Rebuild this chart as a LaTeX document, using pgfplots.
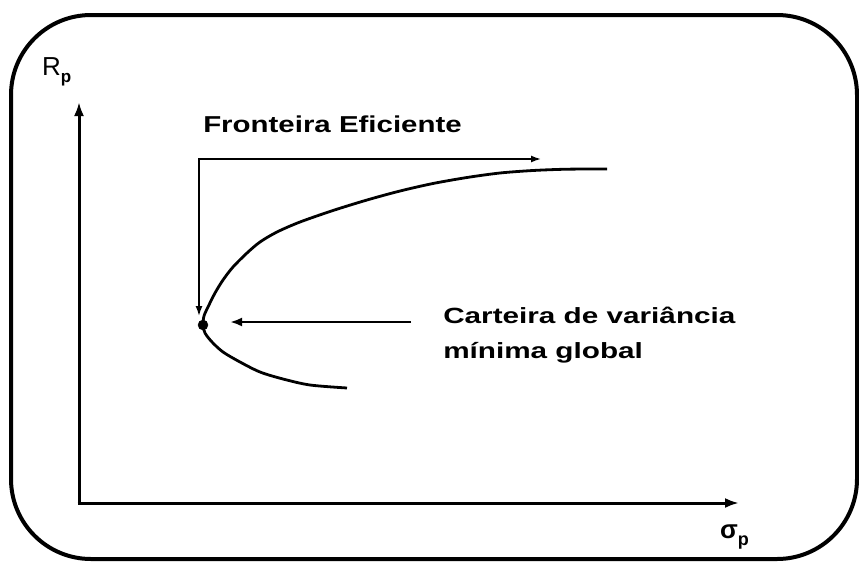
\documentclass[border=0pt]{standalone}
\usepackage{fontspec}
\setmainfont{Liberation Sans}
\usepackage{pgfplots}
\pgfplotsset{compat=1.18}
\usetikzlibrary{arrows.meta}
\begin{document}
\begin{tikzpicture}
\begin{axis}[width=859pt,height=562pt,scale only axis,
  xmin=0,xmax=859,ymin=0,ymax=562,y dir=reverse,hide axis,clip=false]
% frame
\draw[line width=4pt,rounded corners=80pt] (axis cs:11,15) rectangle (axis cs:857,559);
% axes
\draw[line width=3pt,-{Latex[length=14pt,width=10pt]}] (axis cs:79,503) -- (axis cs:79,102);
\draw[line width=3pt,-{Latex[length=14pt,width=10pt]}] (axis cs:77.5,503) -- (axis cs:739,503);
% efficient frontier curve
\addplot[black,line width=2.8pt,smooth] coordinates {
(347,388) (310,385) (283,379) (260,372) (240,362) (223,352) (212,342) (205,333) (203,325)
(204,316) (208,307) (215,293) (223,280) (233,267) (247,253) (260,242) (277,232) (300,222)
(333,210.5) (367,200) (400,191) (433,183.5) (467,177.5) (500,173) (533,170.5) (567,169.2) (607,169)};
% global minimum variance portfolio
\addplot[black,only marks,mark=*,mark size=5pt] coordinates {(203,325)};
% annotation arrows
\draw[line width=1.5pt,-{Latex[length=10pt,width=7pt]}] (axis cs:199,159) -- (axis cs:541,159);
\draw[line width=1.5pt,-{Latex[length=10pt,width=7pt]}] (axis cs:199,158.3) -- (axis cs:199,316);
\draw[line width=2.5pt,-{Latex[length=12pt,width=9pt]}] (axis cs:411,322) -- (axis cs:230,322);
% texts
\node[anchor=base west,inner sep=0pt,xscale=1.28,font=\bfseries\fontsize{23}{28}\selectfont] at (axis cs:203,132) {Fronteira Eficiente};
\node[anchor=base west,inner sep=0pt,xscale=1.35,font=\bfseries\fontsize{22}{26}\selectfont] at (axis cs:443,323) {Carteira de variância};
\node[anchor=base west,inner sep=0pt,xscale=1.35,font=\bfseries\fontsize{22}{26}\selectfont] at (axis cs:443,358) {mínima global};
\node[anchor=base west,inner sep=0pt,font=\fontsize{26}{30}\selectfont] at (axis cs:42,75) {R\raisebox{-7pt}{\fontsize{17}{17}\selectfont\bfseries p}};
\node[anchor=base west,inner sep=0pt,font=\bfseries\fontsize{26}{30}\selectfont] at (axis cs:720,538) {σ\raisebox{-7pt}{\fontsize{18}{18}\selectfont p}};
\end{axis}
\pgfresetboundingbox
\path (0,0) rectangle (859pt,562pt);
\end{tikzpicture}
\end{document}
